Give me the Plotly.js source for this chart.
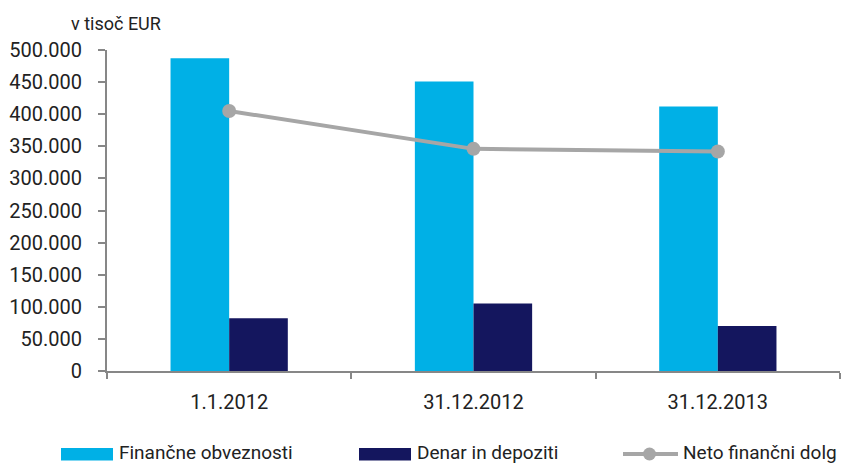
<!DOCTYPE html>
<html>
<head>
<meta charset="utf-8">
<script src="https://cdn.plot.ly/plotly-3.0.1.min.js"></script>
<style>html,body{margin:0;padding:0;background:#fff;}#chart{width:843px;height:464px;}</style>
</head>
<body>
<div id="chart"></div>
<script>
// Data (v tisoč EUR)
const categories = ["1.1.2012", "31.12.2012", "31.12.2013"];
const financneObveznosti = [487000, 451000, 412000];
const denarInDepoziti = [82000, 105000, 70000];
const netoFinancniDolg = [405000, 346000, 342000];
const seriesNames = ["Finančne obveznosti", "Denar in depoziti", "Neto finančni dolg"];
const yTickVals = [0, 50000, 100000, 150000, 200000, 250000, 300000, 350000, 400000, 450000, 500000];
const yTickText = ["0", "50.000", "100.000", "150.000", "200.000", "250.000", "300.000", "350.000", "400.000", "450.000", "500.000"];

const colLight = "#00B0E6", colDark = "#14165E", colGrey = "#A6A6A6";
const FONT = "Roboto, 'Liberation Sans', sans-serif";

// plot area geometry in pixels
const L = 107, R = 840, T = 50, B = 371;
const px = x => (x - L) / (R - L);
const py = y => (B - y) / (B - T);

const traces = [
  {type: "bar", name: seriesNames[0], x: categories, y: financneObveznosti,
   marker: {color: colLight}, hoverinfo: "y"},
  {type: "bar", name: seriesNames[1], x: categories, y: denarInDepoziti,
   marker: {color: colDark}, hoverinfo: "y"},
  {type: "scatter", mode: "lines+markers", name: seriesNames[2], x: categories, y: netoFinancniDolg,
   line: {color: colGrey, width: 4}, marker: {color: colGrey, size: 14}, hoverinfo: "y"}
];

// manual legend
const legendY = 454;
const shapes = [
  {type: "rect", xref: "paper", yref: "paper", x0: px(61), x1: px(113), y0: py(448), y1: py(460.5), fillcolor: colLight, line: {width: 0}},
  {type: "rect", xref: "paper", yref: "paper", x0: px(359), x1: px(411), y0: py(448), y1: py(460.5), fillcolor: colDark, line: {width: 0}},
  {type: "line", xref: "paper", yref: "paper", x0: px(623), x1: px(678), y0: py(legendY), y1: py(legendY), line: {color: colGrey, width: 4}},
  {type: "circle", xref: "paper", yref: "paper", x0: px(643), x1: px(656), y0: py(legendY - 6.5), y1: py(legendY + 6.5), fillcolor: colGrey, line: {width: 0}}
];
const legendText = [[117, seriesNames[0]], [415, seriesNames[1]], [681, seriesNames[2]]];
const annotations = legendText.map(([x, t]) => ({
  xref: "paper", yref: "paper", x: px(x), y: py(452.5), xanchor: "left", yanchor: "middle",
  text: t, showarrow: false, font: {family: FONT, size: 19, color: "#222"}
}));
annotations.push({
  xref: "paper", yref: "paper", x: px(69), y: py(23), xanchor: "left", yanchor: "middle",
  text: "v tisoč EUR", showarrow: false, font: {family: FONT, size: 18, color: "#222"}
});

const layout = {
  width: 843, height: 464,
  margin: {l: L, r: 843 - R, t: T, b: 464 - B, pad: 0},
  paper_bgcolor: "#fff", plot_bgcolor: "#fff",
  barmode: "group", bargap: 0.52, bargroupgap: 0,
  showlegend: false,
  font: {family: FONT, size: 20, color: "#222"},
  xaxis: {
    type: "category", range: [-0.5, 2.5], showgrid: false, zeroline: false,
    showline: true, linecolor: "#878787", linewidth: 2,
    ticks: "outside", tickson: "boundaries", ticklen: 6, tickcolor: "#878787", tickwidth: 2,
    ticklabelstandoff: 12,
    tickfont: {family: FONT, size: 20, color: "#222"}, fixedrange: true
  },
  yaxis: {
    range: [0, 500000], showgrid: false, zeroline: false,
    showline: true, linecolor: "#878787", linewidth: 2,
    ticks: "outside", ticklen: 7, tickcolor: "#878787", tickwidth: 2,
    tickvals: yTickVals, ticktext: yTickText, ticklabelstandoff: 12,
    tickfont: {family: FONT, size: 20, color: "#222"}, fixedrange: true
  },
  shapes: shapes,
  annotations: annotations
};

Plotly.newPlot("chart", traces, layout, {displayModeBar: false, staticPlot: true});
</script>
</body>
</html>
